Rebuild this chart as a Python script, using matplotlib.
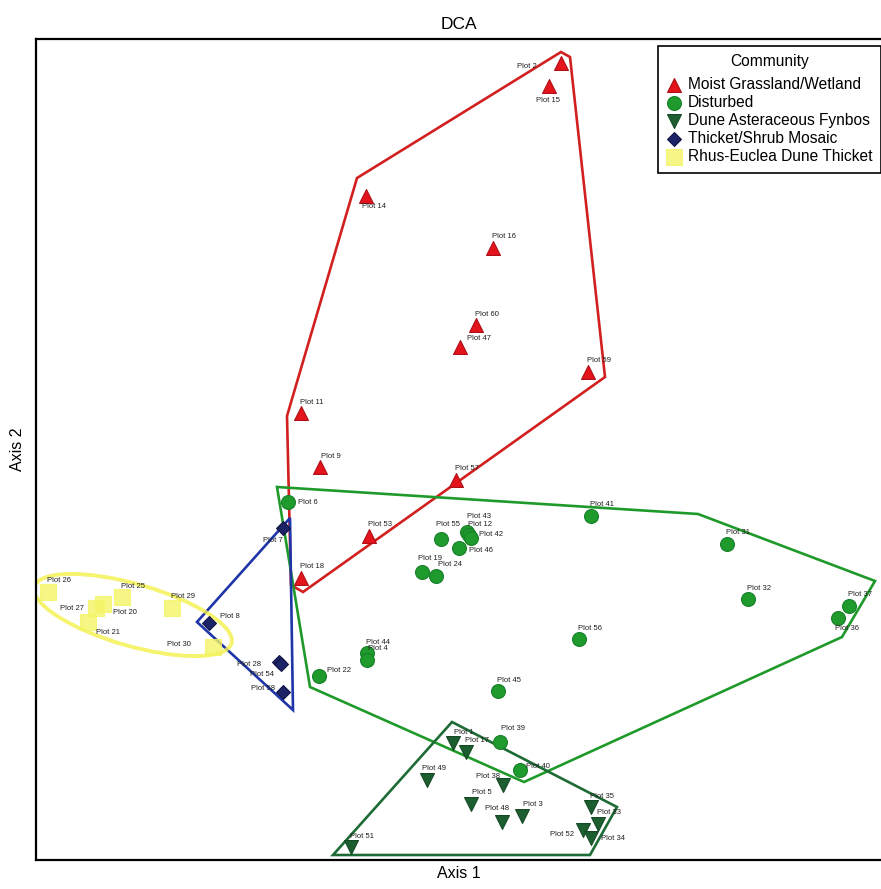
import matplotlib.pyplot as plt
from matplotlib.patches import Ellipse, Polygon

plt.rcParams['font.family'] = ['Liberation Sans', 'DejaVu Sans']

# DCA scores (arbitrary axis units)
grass_lab = ['Plot 2', 'Plot 15', 'Plot 14', 'Plot 16', 'Plot 60', 'Plot 47',
             'Plot 59', 'Plot 11', 'Plot 9', 'Plot 57', 'Plot 53', 'Plot 18']
grass_x = [525, 513, 330, 457, 440, 424, 552, 265, 284, 420, 333, 265]
grass_y = [797, 774, 664, 612, 535, 513, 488, 447, 393, 380, 324, 282]

dist_lab = ['Plot 6', 'Plot 41', 'Plot 55', 'Plot 43', 'Plot 12', 'Plot 42',
            'Plot 46', 'Plot 19', 'Plot 24', 'Plot 31', 'Plot 32', 'Plot 37',
            'Plot 36', 'Plot 56', 'Plot 44', 'Plot 4', 'Plot 22', 'Plot 45',
            'Plot 39', 'Plot 40']
dist_x = [252, 555, 405, 431, 433, 435, 423, 386, 400, 691, 712, 813,
          802, 543, 331, 331, 283, 462, 464, 484]
dist_y = [358, 344, 321, 328, 325, 322, 312, 288, 284, 316, 261, 254,
          242, 221, 207, 200, 184, 169, 118, 90]

fyn_lab = ['Plot 1', 'Plot 17', 'Plot 49', 'Plot 38', 'Plot 5', 'Plot 48',
           'Plot 3', 'Plot 35', 'Plot 33', 'Plot 52', 'Plot 34', 'Plot 51']
fyn_x = [417, 430, 391, 467, 435, 466, 486, 555, 562, 547, 555, 315]
fyn_y = [117, 108, 80, 75, 56, 38, 44, 53, 36, 30, 22, 13]

thk_lab = ['Plot 7', 'Plot 8', 'Plot 28', 'Plot 54', 'Plot 58']
thk_x = [247, 173, 243, 245, 247]
thk_y = [332, 237, 198, 196, 168]

rhus_lab = ['Plot 26', 'Plot 25', 'Plot 29', 'Plot 27', 'Plot 20', 'Plot 21', 'Plot 30']
rhus_x = [12, 86, 136, 60, 67, 52, 177]
rhus_y = [268, 263, 252, 252, 256, 238, 213]

# envelopes drawn round each group
grass_hull = [(525, 808), (534, 803), (569, 483), (267, 268), (255, 275), (251, 444), (321, 682)]
dist_hull = [(241, 373), (662, 346), (839, 279), (806, 223), (488, 78), (274, 173)]
fyn_hull = [(416, 138), (581, 53), (554, 5), (297, 5)]
thk_hull = [(254, 342), (161, 238), (257, 150)]
rhus_ell = (97, 245, 205, 62, -16)  # centre x, centre y, width, height, angle

# label nudges in pixels (default up-right)
nudge = {'Plot 2': (-34, -4), 'Plot 15': (-1, -14), 'Plot 14': (8, -10),
         'Plot 47': (19, 8), 'Plot 6': (20, 0), 'Plot 55': (7, 15),
         'Plot 43': (12, 16), 'Plot 42': (20, 4), 'Plot 46': (22, -3),
         'Plot 36': (9, -10), 'Plot 22': (20, 5), 'Plot 40': (18, 3),
         'Plot 49': (7, 11), 'Plot 38': (-15, 9), 'Plot 48': (-5, 13),
         'Plot 52': (-21, -4), 'Plot 34': (22, 0), 'Plot 7': (-10, -12),
         'Plot 8': (21, 6), 'Plot 28': (-30, -3), 'Plot 54': (-19, -10),
         'Plot 58': (-20, 4), 'Plot 27': (-24, -1), 'Plot 20': (22, -9),
         'Plot 21': (20, -10), 'Plot 30': (-34, 3), 'Plot 39': (13, 13),
         'Plot 19': (8, 13), 'Plot 24': (14, 11)}

fig = plt.figure(figsize=(8.81, 8.89), dpi=100)
ax = fig.add_axes([36 / 881, 29 / 889, 845 / 881, 821 / 889])

ax.add_patch(Polygon(grass_hull, closed=True, fill=False, ec='#d21f1f', lw=1.9, zorder=2))
ax.add_patch(Polygon(dist_hull, closed=True, fill=False, ec='#1f9a2a', lw=1.9, zorder=2))
ax.add_patch(Polygon(fyn_hull, closed=True, fill=False, ec='#1d6b35', lw=1.9, zorder=2))
ax.add_patch(Polygon(thk_hull, closed=True, fill=False, ec='#1f35a8', lw=1.9, zorder=2))
cx, cy, w, h, ang = rhus_ell
ax.add_patch(Ellipse((cx, cy), w, h, angle=ang, fill=False, ec='#f4f04a', lw=2.8,
                     alpha=0.8, zorder=2))

groups = [
    (grass_x, grass_y, grass_lab, '^', '#e3141c', '#b01018', 100, 'Moist Grassland/Wetland'),
    (dist_x, dist_y, dist_lab, 'o', '#1f9a2c', '#17802a', 100, 'Disturbed'),
    (fyn_x, fyn_y, fyn_lab, 'v', '#1c5e2f', '#154a25', 100, 'Dune Asteraceous Fynbos'),
    (thk_x, thk_y, thk_lab, 'D', '#1c2366', '#111544', 50, 'Thicket/Shrub Mosaic'),
    (rhus_x, rhus_y, rhus_lab, 's', '#f4f466', '#f4f466', 120, 'Rhus-Euclea Dune Thicket'),
]
for xs, ys, labs, mk, fc, ec, s, name in groups:
    a = 0.8 if mk == 's' else 1.0
    ax.scatter(xs, ys, marker=mk, s=s, c=fc, edgecolors=ec, linewidths=0.8,
               alpha=a, zorder=3, label=name)
    for x, y, t in zip(xs, ys, labs):
        dx, dy = nudge.get(t, (11, 11))
        ax.annotate(t, (x, y), xytext=(dx, dy), textcoords='offset pixels',
                    ha='center', va='center', fontsize=5.5, color='#1e1e1e', zorder=4)

ax.set_xlim(0, 845)
ax.set_ylim(0, 821)
ax.set_xticks([])
ax.set_yticks([])
ax.spines['right'].set_visible(False)
for s in ['left', 'top', 'bottom']:
    ax.spines[s].set_linewidth(1.6)

ax.set_title('DCA', fontsize=12.5, pad=7)
ax.set_xlabel('Axis 1', fontsize=11.5, labelpad=4)
ax.set_ylabel('Axis 2', fontsize=11.5, labelpad=8)

leg = ax.legend(title='Community', loc='upper right', bbox_to_anchor=(1.0, 0.992),
                fontsize=11.2, title_fontsize=11.2, fancybox=False, edgecolor='black',
                framealpha=1, labelspacing=0.19, handletextpad=0.4,
                borderpad=0.55, handlelength=1.0, borderaxespad=0)
leg.get_frame().set_linewidth(1.2)
leg._legend_box.sep = 6  # a bit more room under the title

fig.savefig('out.png', dpi=100)
